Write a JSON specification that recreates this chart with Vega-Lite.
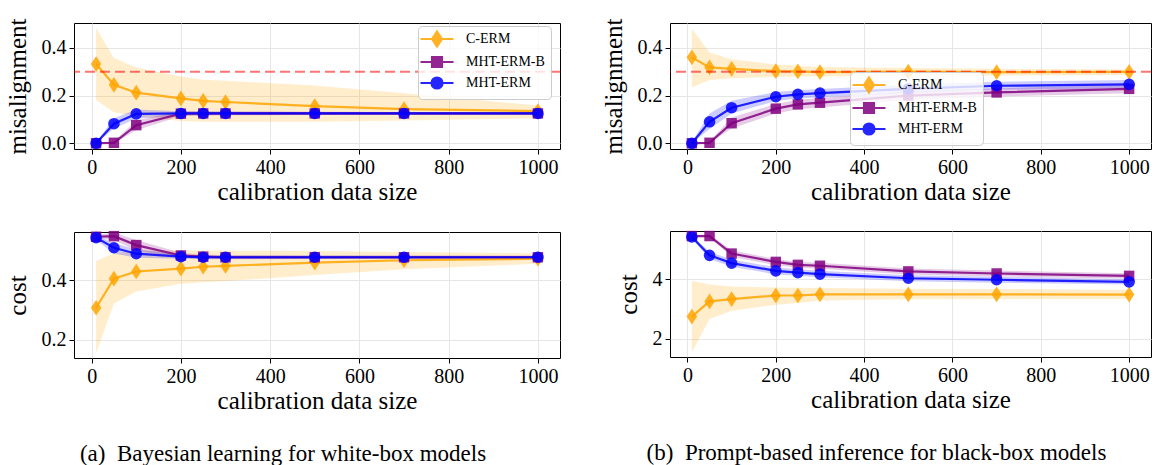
{
"$schema":"https://vega.github.io/schema/vega-lite/v6.json",
"background":"white",
"padding":{"left":4,"top":17,"right":0,"bottom":0},
"spacing":38,
"data":{"values":[
{"p":"wm","s":"C-ERM","n":10,"v":0.332,"lo":0.18,"hi":0.482},
{"p":"wm","s":"C-ERM","n":50,"v":0.245,"lo":0.13,"hi":0.357},
{"p":"wm","s":"C-ERM","n":100,"v":0.212,"lo":0.112,"hi":0.318},
{"p":"wm","s":"C-ERM","n":200,"v":0.188,"lo":0.093,"hi":0.28},
{"p":"wm","s":"C-ERM","n":250,"v":0.178,"lo":0.09,"hi":0.266},
{"p":"wm","s":"C-ERM","n":300,"v":0.173,"lo":0.09,"hi":0.262},
{"p":"wm","s":"C-ERM","n":500,"v":0.156,"lo":0.09,"hi":0.242},
{"p":"wm","s":"C-ERM","n":700,"v":0.143,"lo":0.095,"hi":0.21},
{"p":"wm","s":"C-ERM","n":1000,"v":0.135,"lo":0.105,"hi":0.158},
{"p":"wm","s":"MHT-ERM-B","n":10,"v":0,"lo":0,"hi":0.003},
{"p":"wm","s":"MHT-ERM-B","n":50,"v":0.002,"lo":0,"hi":0.008},
{"p":"wm","s":"MHT-ERM-B","n":100,"v":0.076,"lo":0.055,"hi":0.097},
{"p":"wm","s":"MHT-ERM-B","n":200,"v":0.124,"lo":0.114,"hi":0.134},
{"p":"wm","s":"MHT-ERM-B","n":250,"v":0.125,"lo":0.116,"hi":0.134},
{"p":"wm","s":"MHT-ERM-B","n":300,"v":0.125,"lo":0.117,"hi":0.133},
{"p":"wm","s":"MHT-ERM-B","n":500,"v":0.125,"lo":0.118,"hi":0.132},
{"p":"wm","s":"MHT-ERM-B","n":700,"v":0.125,"lo":0.119,"hi":0.131},
{"p":"wm","s":"MHT-ERM-B","n":1000,"v":0.125,"lo":0.12,"hi":0.13},
{"p":"wm","s":"MHT-ERM","n":10,"v":0,"lo":0,"hi":0.003},
{"p":"wm","s":"MHT-ERM","n":50,"v":0.082,"lo":0.062,"hi":0.105},
{"p":"wm","s":"MHT-ERM","n":100,"v":0.123,"lo":0.104,"hi":0.142},
{"p":"wm","s":"MHT-ERM","n":200,"v":0.125,"lo":0.116,"hi":0.134},
{"p":"wm","s":"MHT-ERM","n":250,"v":0.125,"lo":0.117,"hi":0.133},
{"p":"wm","s":"MHT-ERM","n":300,"v":0.125,"lo":0.118,"hi":0.132},
{"p":"wm","s":"MHT-ERM","n":500,"v":0.125,"lo":0.119,"hi":0.131},
{"p":"wm","s":"MHT-ERM","n":700,"v":0.125,"lo":0.12,"hi":0.13},
{"p":"wm","s":"MHT-ERM","n":1000,"v":0.125,"lo":0.12,"hi":0.13},
{"p":"bm","s":"C-ERM","n":10,"v":0.36,"lo":0.235,"hi":0.48},
{"p":"bm","s":"C-ERM","n":50,"v":0.318,"lo":0.265,"hi":0.38},
{"p":"bm","s":"C-ERM","n":100,"v":0.312,"lo":0.272,"hi":0.352},
{"p":"bm","s":"C-ERM","n":200,"v":0.302,"lo":0.278,"hi":0.33},
{"p":"bm","s":"C-ERM","n":250,"v":0.301,"lo":0.28,"hi":0.325},
{"p":"bm","s":"C-ERM","n":300,"v":0.298,"lo":0.28,"hi":0.32},
{"p":"bm","s":"C-ERM","n":500,"v":0.3,"lo":0.283,"hi":0.315},
{"p":"bm","s":"C-ERM","n":700,"v":0.298,"lo":0.284,"hi":0.312},
{"p":"bm","s":"C-ERM","n":1000,"v":0.299,"lo":0.286,"hi":0.31},
{"p":"bm","s":"MHT-ERM-B","n":10,"v":0,"lo":0,"hi":0.003},
{"p":"bm","s":"MHT-ERM-B","n":50,"v":0.002,"lo":0,"hi":0.006},
{"p":"bm","s":"MHT-ERM-B","n":100,"v":0.084,"lo":0.062,"hi":0.108},
{"p":"bm","s":"MHT-ERM-B","n":200,"v":0.145,"lo":0.125,"hi":0.165},
{"p":"bm","s":"MHT-ERM-B","n":250,"v":0.163,"lo":0.143,"hi":0.182},
{"p":"bm","s":"MHT-ERM-B","n":300,"v":0.17,"lo":0.15,"hi":0.19},
{"p":"bm","s":"MHT-ERM-B","n":500,"v":0.2,"lo":0.182,"hi":0.218},
{"p":"bm","s":"MHT-ERM-B","n":700,"v":0.213,"lo":0.196,"hi":0.23},
{"p":"bm","s":"MHT-ERM-B","n":1000,"v":0.228,"lo":0.21,"hi":0.245},
{"p":"bm","s":"MHT-ERM","n":10,"v":0,"lo":0,"hi":0.004},
{"p":"bm","s":"MHT-ERM","n":50,"v":0.09,"lo":0.06,"hi":0.125},
{"p":"bm","s":"MHT-ERM","n":100,"v":0.149,"lo":0.125,"hi":0.178},
{"p":"bm","s":"MHT-ERM","n":200,"v":0.195,"lo":0.177,"hi":0.215},
{"p":"bm","s":"MHT-ERM","n":250,"v":0.205,"lo":0.188,"hi":0.222},
{"p":"bm","s":"MHT-ERM","n":300,"v":0.21,"lo":0.193,"hi":0.227},
{"p":"bm","s":"MHT-ERM","n":500,"v":0.228,"lo":0.21,"hi":0.245},
{"p":"bm","s":"MHT-ERM","n":700,"v":0.241,"lo":0.225,"hi":0.258},
{"p":"bm","s":"MHT-ERM","n":1000,"v":0.247,"lo":0.23,"hi":0.265},
{"p":"wc","s":"C-ERM","n":10,"v":0.307,"lo":0.155,"hi":0.464},
{"p":"wc","s":"C-ERM","n":50,"v":0.405,"lo":0.321,"hi":0.49},
{"p":"wc","s":"C-ERM","n":100,"v":0.429,"lo":0.362,"hi":0.5},
{"p":"wc","s":"C-ERM","n":200,"v":0.439,"lo":0.388,"hi":0.5},
{"p":"wc","s":"C-ERM","n":250,"v":0.445,"lo":0.393,"hi":0.5},
{"p":"wc","s":"C-ERM","n":300,"v":0.448,"lo":0.397,"hi":0.5},
{"p":"wc","s":"C-ERM","n":500,"v":0.459,"lo":0.417,"hi":0.498},
{"p":"wc","s":"C-ERM","n":700,"v":0.467,"lo":0.437,"hi":0.495},
{"p":"wc","s":"C-ERM","n":1000,"v":0.472,"lo":0.455,"hi":0.49},
{"p":"wc","s":"MHT-ERM-B","n":10,"v":0.546,"lo":0.54,"hi":0.552},
{"p":"wc","s":"MHT-ERM-B","n":50,"v":0.548,"lo":0.535,"hi":0.56},
{"p":"wc","s":"MHT-ERM-B","n":100,"v":0.518,"lo":0.5,"hi":0.535},
{"p":"wc","s":"MHT-ERM-B","n":200,"v":0.483,"lo":0.475,"hi":0.492},
{"p":"wc","s":"MHT-ERM-B","n":250,"v":0.479,"lo":0.471,"hi":0.486},
{"p":"wc","s":"MHT-ERM-B","n":300,"v":0.477,"lo":0.47,"hi":0.484},
{"p":"wc","s":"MHT-ERM-B","n":500,"v":0.477,"lo":0.471,"hi":0.483},
{"p":"wc","s":"MHT-ERM-B","n":700,"v":0.477,"lo":0.471,"hi":0.483},
{"p":"wc","s":"MHT-ERM-B","n":1000,"v":0.477,"lo":0.472,"hi":0.482},
{"p":"wc","s":"MHT-ERM","n":10,"v":0.543,"lo":0.535,"hi":0.55},
{"p":"wc","s":"MHT-ERM","n":50,"v":0.509,"lo":0.49,"hi":0.525},
{"p":"wc","s":"MHT-ERM","n":100,"v":0.489,"lo":0.475,"hi":0.503},
{"p":"wc","s":"MHT-ERM","n":200,"v":0.479,"lo":0.472,"hi":0.487},
{"p":"wc","s":"MHT-ERM","n":250,"v":0.477,"lo":0.47,"hi":0.484},
{"p":"wc","s":"MHT-ERM","n":300,"v":0.477,"lo":0.471,"hi":0.483},
{"p":"wc","s":"MHT-ERM","n":500,"v":0.477,"lo":0.471,"hi":0.483},
{"p":"wc","s":"MHT-ERM","n":700,"v":0.477,"lo":0.472,"hi":0.482},
{"p":"wc","s":"MHT-ERM","n":1000,"v":0.477,"lo":0.472,"hi":0.482},
{"p":"bc","s":"C-ERM","n":10,"v":2.74,"lo":1.54,"hi":3.94},
{"p":"bc","s":"C-ERM","n":50,"v":3.25,"lo":2.66,"hi":3.82},
{"p":"bc","s":"C-ERM","n":100,"v":3.33,"lo":2.94,"hi":3.75},
{"p":"bc","s":"C-ERM","n":200,"v":3.45,"lo":3.14,"hi":3.72},
{"p":"bc","s":"C-ERM","n":250,"v":3.45,"lo":3.2,"hi":3.71},
{"p":"bc","s":"C-ERM","n":300,"v":3.49,"lo":3.28,"hi":3.7},
{"p":"bc","s":"C-ERM","n":500,"v":3.49,"lo":3.32,"hi":3.68},
{"p":"bc","s":"C-ERM","n":700,"v":3.49,"lo":3.33,"hi":3.67},
{"p":"bc","s":"C-ERM","n":1000,"v":3.48,"lo":3.33,"hi":3.64},
{"p":"bc","s":"MHT-ERM-B","n":10,"v":5.45,"lo":5.42,"hi":5.48},
{"p":"bc","s":"MHT-ERM-B","n":50,"v":5.45,"lo":5.4,"hi":5.5},
{"p":"bc","s":"MHT-ERM-B","n":100,"v":4.86,"lo":4.75,"hi":4.97},
{"p":"bc","s":"MHT-ERM-B","n":200,"v":4.58,"lo":4.47,"hi":4.68},
{"p":"bc","s":"MHT-ERM-B","n":250,"v":4.48,"lo":4.38,"hi":4.58},
{"p":"bc","s":"MHT-ERM-B","n":300,"v":4.45,"lo":4.35,"hi":4.55},
{"p":"bc","s":"MHT-ERM-B","n":500,"v":4.26,"lo":4.16,"hi":4.36},
{"p":"bc","s":"MHT-ERM-B","n":700,"v":4.19,"lo":4.09,"hi":4.29},
{"p":"bc","s":"MHT-ERM-B","n":1000,"v":4.11,"lo":4.01,"hi":4.2},
{"p":"bc","s":"MHT-ERM","n":10,"v":5.42,"lo":5.38,"hi":5.46},
{"p":"bc","s":"MHT-ERM","n":50,"v":4.8,"lo":4.68,"hi":4.92},
{"p":"bc","s":"MHT-ERM","n":100,"v":4.54,"lo":4.42,"hi":4.66},
{"p":"bc","s":"MHT-ERM","n":200,"v":4.28,"lo":4.16,"hi":4.4},
{"p":"bc","s":"MHT-ERM","n":250,"v":4.22,"lo":4.11,"hi":4.33},
{"p":"bc","s":"MHT-ERM","n":300,"v":4.17,"lo":4.06,"hi":4.28},
{"p":"bc","s":"MHT-ERM","n":500,"v":4.03,"lo":3.93,"hi":4.13},
{"p":"bc","s":"MHT-ERM","n":700,"v":3.98,"lo":3.88,"hi":4.08},
{"p":"bc","s":"MHT-ERM","n":1000,"v":3.91,"lo":3.82,"hi":4.0}
]},
"hconcat":[
{"spacing":25,
 "title":{"text":"(a)\u00a0 Bayesian learning for white-box models","orient":"bottom","anchor":"middle","offset":29},
 "resolve":{"scale":{"color":"independent","shape":"independent","stroke":"independent"},"legend":{"color":"independent","shape":"independent","stroke":"independent"}},
 "vconcat":[
 {"width":486,"height":126,"transform":[{"filter":"datum.p==='wm'"}],
  "layer":[
   {"transform":[{"filter":"datum.s==='C-ERM'"}],"mark":{"type":"area","color":"#FFA500","opacity":0.2},
    "encoding":{"x":{"field":"n","type":"quantitative","scale":{"domain":[-39.5,1049.5],"nice":false,"zero":false},"axis":{"values":[0,200,400,600,800,1000],"format":"d"},"title":"calibration data size"},
     "y":{"field":"lo","type":"quantitative","scale":{"domain":[-0.024,0.504],"nice":false,"zero":false},"axis":{"values":[0,0.2,0.4],"format":".1f"},"title":"misalignment"},"y2":{"field":"hi"}}},
   {"transform":[{"filter":"datum.s==='MHT-ERM-B'"}],"mark":{"type":"area","color":"#800080","opacity":0.2},
    "encoding":{"x":{"field":"n","type":"quantitative","title":"calibration data size"},"y":{"field":"lo","type":"quantitative","title":"misalignment"},"y2":{"field":"hi"}}},
   {"transform":[{"filter":"datum.s==='MHT-ERM'"}],"mark":{"type":"area","color":"#0000FF","opacity":0.2},
    "encoding":{"x":{"field":"n","type":"quantitative","title":"calibration data size"},"y":{"field":"lo","type":"quantitative","title":"misalignment"},"y2":{"field":"hi"}}},
   {"transform":[{"filter":"datum.s==='C-ERM'"}],"mark":{"type":"line","color":"#FFA500","opacity":0.85,"strokeWidth":2.2},
    "encoding":{"x":{"field":"n","type":"quantitative","title":"calibration data size"},"y":{"field":"v","type":"quantitative","title":"misalignment"}}},
   {"transform":[{"filter":"datum.s==='C-ERM'"}],"mark":{"type":"point","filled":true,"size":135,"opacity":0.85,"color":"#FFA500","shape":"M0,-1.35L0.9,0L0,1.35L-0.9,0Z"},
    "encoding":{"x":{"field":"n","type":"quantitative","title":"calibration data size"},"y":{"field":"v","type":"quantitative","title":"misalignment"}}},
   {"transform":[{"filter":"datum.s==='MHT-ERM-B'"}],"mark":{"type":"line","color":"#800080","opacity":0.85,"strokeWidth":2.2},
    "encoding":{"x":{"field":"n","type":"quantitative","title":"calibration data size"},"y":{"field":"v","type":"quantitative","title":"misalignment"}}},
   {"transform":[{"filter":"datum.s==='MHT-ERM-B'"}],"mark":{"type":"point","filled":true,"size":135,"opacity":0.85,"color":"#800080","shape":"M-0.9,-0.9H0.9V0.9H-0.9Z"},
    "encoding":{"x":{"field":"n","type":"quantitative","title":"calibration data size"},"y":{"field":"v","type":"quantitative","title":"misalignment"}}},
   {"transform":[{"filter":"datum.s==='MHT-ERM'"}],"mark":{"type":"line","color":"#0000FF","opacity":0.85,"strokeWidth":2.2},
    "encoding":{"x":{"field":"n","type":"quantitative","title":"calibration data size"},"y":{"field":"v","type":"quantitative","title":"misalignment"}}},
   {"transform":[{"filter":"datum.s==='MHT-ERM'"}],"mark":{"type":"point","filled":true,"size":135,"opacity":0.85,"color":"#0000FF","shape":"circle"},
    "encoding":{"x":{"field":"n","type":"quantitative","title":"calibration data size"},"y":{"field":"v","type":"quantitative","title":"misalignment"}}},
   {"data":{"values":[{"r":0.3,"p":"wm"}]},"mark":{"type":"rule","color":"#ff0000","opacity":0.55,"strokeWidth":2,"strokeDash":[10,5]},
    "encoding":{"y":{"field":"r","type":"quantitative","title":"misalignment"}}},
   {"mark":{"type":"point","filled":true,"size":121,"opacity":0},
    "encoding":{"x":{"field":"n","type":"quantitative","title":"calibration data size"},"y":{"field":"v","type":"quantitative","title":"misalignment"},
     "color":{"field":"s","type":"nominal","scale":{"domain":["C-ERM","MHT-ERM-B","MHT-ERM"],"range":["#FFA500","#800080","#0000FF"]},"legend":{"title":null,"orient":"none","legendX":344,"legendY":3}},
     "stroke":{"field":"s","type":"nominal","scale":{"domain":["C-ERM","MHT-ERM-B","MHT-ERM"],"range":["#FFA500","#800080","#0000FF"]},"legend":{"title":null,"orient":"none","legendX":344,"legendY":3}},
     "shape":{"field":"s","type":"nominal","scale":{"domain":["C-ERM","MHT-ERM-B","MHT-ERM"],"range":["M-3,0H3M0,-1.35L0.9,0L0,1.35L-0.9,0Z","M-3,0H3M-0.9,-0.9H0.9V0.9H-0.9Z","M-3,0H3M1,0A1,1,0,1,1,-1,0A1,1,0,1,1,1,0Z"]},"legend":{"title":null,"orient":"none","legendX":344,"legendY":3}}}}
  ]},
 {"width":486,"height":126,"transform":[{"filter":"datum.p==='wc'"}],
  "layer":[
   {"transform":[{"filter":"datum.s==='C-ERM'"}],"mark":{"type":"area","color":"#FFA500","opacity":0.2},
    "encoding":{"x":{"field":"n","type":"quantitative","scale":{"domain":[-39.5,1049.5],"nice":false,"zero":false},"axis":{"values":[0,200,400,600,800,1000],"format":"d"},"title":"calibration data size"},
     "y":{"field":"lo","type":"quantitative","scale":{"domain":[0.138,0.562],"nice":false,"zero":false},"axis":{"values":[0.2,0.4],"format":".1f"},"title":"cost"},"y2":{"field":"hi"}}},
   {"transform":[{"filter":"datum.s==='MHT-ERM-B'"}],"mark":{"type":"area","color":"#800080","opacity":0.2},
    "encoding":{"x":{"field":"n","type":"quantitative","title":"calibration data size"},"y":{"field":"lo","type":"quantitative","title":"cost"},"y2":{"field":"hi"}}},
   {"transform":[{"filter":"datum.s==='MHT-ERM'"}],"mark":{"type":"area","color":"#0000FF","opacity":0.2},
    "encoding":{"x":{"field":"n","type":"quantitative","title":"calibration data size"},"y":{"field":"lo","type":"quantitative","title":"cost"},"y2":{"field":"hi"}}},
   {"transform":[{"filter":"datum.s==='C-ERM'"}],"mark":{"type":"line","color":"#FFA500","opacity":0.85,"strokeWidth":2.2},
    "encoding":{"x":{"field":"n","type":"quantitative","title":"calibration data size"},"y":{"field":"v","type":"quantitative","title":"cost"}}},
   {"transform":[{"filter":"datum.s==='C-ERM'"}],"mark":{"type":"point","filled":true,"size":135,"opacity":0.85,"color":"#FFA500","shape":"M0,-1.35L0.9,0L0,1.35L-0.9,0Z"},
    "encoding":{"x":{"field":"n","type":"quantitative","title":"calibration data size"},"y":{"field":"v","type":"quantitative","title":"cost"}}},
   {"transform":[{"filter":"datum.s==='MHT-ERM-B'"}],"mark":{"type":"line","color":"#800080","opacity":0.85,"strokeWidth":2.2},
    "encoding":{"x":{"field":"n","type":"quantitative","title":"calibration data size"},"y":{"field":"v","type":"quantitative","title":"cost"}}},
   {"transform":[{"filter":"datum.s==='MHT-ERM-B'"}],"mark":{"type":"point","filled":true,"size":135,"opacity":0.85,"color":"#800080","shape":"M-0.9,-0.9H0.9V0.9H-0.9Z"},
    "encoding":{"x":{"field":"n","type":"quantitative","title":"calibration data size"},"y":{"field":"v","type":"quantitative","title":"cost"}}},
   {"transform":[{"filter":"datum.s==='MHT-ERM'"}],"mark":{"type":"line","color":"#0000FF","opacity":0.85,"strokeWidth":2.2},
    "encoding":{"x":{"field":"n","type":"quantitative","title":"calibration data size"},"y":{"field":"v","type":"quantitative","title":"cost"}}},
   {"transform":[{"filter":"datum.s==='MHT-ERM'"}],"mark":{"type":"point","filled":true,"size":135,"opacity":0.85,"color":"#0000FF","shape":"circle"},
    "encoding":{"x":{"field":"n","type":"quantitative","title":"calibration data size"},"y":{"field":"v","type":"quantitative","title":"cost"}}}
  ]}
 ]},
{"spacing":25,
 "title":{"text":"(b)\u00a0 Prompt-based inference for black-box models","orient":"bottom","anchor":"middle","offset":29},
 "resolve":{"scale":{"color":"independent","shape":"independent","stroke":"independent"},"legend":{"color":"independent","shape":"independent","stroke":"independent"}},
 "vconcat":[
 {"width":481,"height":126,"transform":[{"filter":"datum.p==='bm'"}],
  "layer":[
   {"transform":[{"filter":"datum.s==='C-ERM'"}],"mark":{"type":"area","color":"#FFA500","opacity":0.2},
    "encoding":{"x":{"field":"n","type":"quantitative","scale":{"domain":[-39.5,1049.5],"nice":false,"zero":false},"axis":{"values":[0,200,400,600,800,1000],"format":"d"},"title":"calibration data size"},
     "y":{"field":"lo","type":"quantitative","scale":{"domain":[-0.024,0.504],"nice":false,"zero":false},"axis":{"values":[0,0.2,0.4],"format":".1f"},"title":"misalignment"},"y2":{"field":"hi"}}},
   {"transform":[{"filter":"datum.s==='MHT-ERM-B'"}],"mark":{"type":"area","color":"#800080","opacity":0.2},
    "encoding":{"x":{"field":"n","type":"quantitative","title":"calibration data size"},"y":{"field":"lo","type":"quantitative","title":"misalignment"},"y2":{"field":"hi"}}},
   {"transform":[{"filter":"datum.s==='MHT-ERM'"}],"mark":{"type":"area","color":"#0000FF","opacity":0.2},
    "encoding":{"x":{"field":"n","type":"quantitative","title":"calibration data size"},"y":{"field":"lo","type":"quantitative","title":"misalignment"},"y2":{"field":"hi"}}},
   {"transform":[{"filter":"datum.s==='C-ERM'"}],"mark":{"type":"line","color":"#FFA500","opacity":0.85,"strokeWidth":2.2},
    "encoding":{"x":{"field":"n","type":"quantitative","title":"calibration data size"},"y":{"field":"v","type":"quantitative","title":"misalignment"}}},
   {"transform":[{"filter":"datum.s==='C-ERM'"}],"mark":{"type":"point","filled":true,"size":135,"opacity":0.85,"color":"#FFA500","shape":"M0,-1.35L0.9,0L0,1.35L-0.9,0Z"},
    "encoding":{"x":{"field":"n","type":"quantitative","title":"calibration data size"},"y":{"field":"v","type":"quantitative","title":"misalignment"}}},
   {"transform":[{"filter":"datum.s==='MHT-ERM-B'"}],"mark":{"type":"line","color":"#800080","opacity":0.85,"strokeWidth":2.2},
    "encoding":{"x":{"field":"n","type":"quantitative","title":"calibration data size"},"y":{"field":"v","type":"quantitative","title":"misalignment"}}},
   {"transform":[{"filter":"datum.s==='MHT-ERM-B'"}],"mark":{"type":"point","filled":true,"size":135,"opacity":0.85,"color":"#800080","shape":"M-0.9,-0.9H0.9V0.9H-0.9Z"},
    "encoding":{"x":{"field":"n","type":"quantitative","title":"calibration data size"},"y":{"field":"v","type":"quantitative","title":"misalignment"}}},
   {"transform":[{"filter":"datum.s==='MHT-ERM'"}],"mark":{"type":"line","color":"#0000FF","opacity":0.85,"strokeWidth":2.2},
    "encoding":{"x":{"field":"n","type":"quantitative","title":"calibration data size"},"y":{"field":"v","type":"quantitative","title":"misalignment"}}},
   {"transform":[{"filter":"datum.s==='MHT-ERM'"}],"mark":{"type":"point","filled":true,"size":135,"opacity":0.85,"color":"#0000FF","shape":"circle"},
    "encoding":{"x":{"field":"n","type":"quantitative","title":"calibration data size"},"y":{"field":"v","type":"quantitative","title":"misalignment"}}},
   {"data":{"values":[{"r":0.3,"p":"bm"}]},"mark":{"type":"rule","color":"#ff0000","opacity":0.55,"strokeWidth":2,"strokeDash":[10,5]},
    "encoding":{"y":{"field":"r","type":"quantitative","title":"misalignment"}}},
   {"mark":{"type":"point","filled":true,"size":121,"opacity":0},
    "encoding":{"x":{"field":"n","type":"quantitative","title":"calibration data size"},"y":{"field":"v","type":"quantitative","title":"misalignment"},
     "color":{"field":"s","type":"nominal","scale":{"domain":["C-ERM","MHT-ERM-B","MHT-ERM"],"range":["#FFA500","#800080","#0000FF"]},"legend":{"title":null,"orient":"none","legendX":180,"legendY":49}},
     "stroke":{"field":"s","type":"nominal","scale":{"domain":["C-ERM","MHT-ERM-B","MHT-ERM"],"range":["#FFA500","#800080","#0000FF"]},"legend":{"title":null,"orient":"none","legendX":180,"legendY":49}},
     "shape":{"field":"s","type":"nominal","scale":{"domain":["C-ERM","MHT-ERM-B","MHT-ERM"],"range":["M-3,0H3M0,-1.35L0.9,0L0,1.35L-0.9,0Z","M-3,0H3M-0.9,-0.9H0.9V0.9H-0.9Z","M-3,0H3M1,0A1,1,0,1,1,-1,0A1,1,0,1,1,1,0Z"]},"legend":{"title":null,"orient":"none","legendX":180,"legendY":49}}}}
  ]},
 {"width":481,"height":126,"transform":[{"filter":"datum.p==='bc'"}],
  "layer":[
   {"transform":[{"filter":"datum.s==='C-ERM'"}],"mark":{"type":"area","color":"#FFA500","opacity":0.2},
    "encoding":{"x":{"field":"n","type":"quantitative","scale":{"domain":[-39.5,1049.5],"nice":false,"zero":false},"axis":{"values":[0,200,400,600,800,1000],"format":"d"},"title":"calibration data size"},
     "y":{"field":"lo","type":"quantitative","scale":{"domain":[1.38,5.62],"nice":false,"zero":false},"axis":{"values":[2,4],"format":"d"},"title":"cost"},"y2":{"field":"hi"}}},
   {"transform":[{"filter":"datum.s==='MHT-ERM-B'"}],"mark":{"type":"area","color":"#800080","opacity":0.2},
    "encoding":{"x":{"field":"n","type":"quantitative","title":"calibration data size"},"y":{"field":"lo","type":"quantitative","title":"cost"},"y2":{"field":"hi"}}},
   {"transform":[{"filter":"datum.s==='MHT-ERM'"}],"mark":{"type":"area","color":"#0000FF","opacity":0.2},
    "encoding":{"x":{"field":"n","type":"quantitative","title":"calibration data size"},"y":{"field":"lo","type":"quantitative","title":"cost"},"y2":{"field":"hi"}}},
   {"transform":[{"filter":"datum.s==='C-ERM'"}],"mark":{"type":"line","color":"#FFA500","opacity":0.85,"strokeWidth":2.2},
    "encoding":{"x":{"field":"n","type":"quantitative","title":"calibration data size"},"y":{"field":"v","type":"quantitative","title":"cost"}}},
   {"transform":[{"filter":"datum.s==='C-ERM'"}],"mark":{"type":"point","filled":true,"size":135,"opacity":0.85,"color":"#FFA500","shape":"M0,-1.35L0.9,0L0,1.35L-0.9,0Z"},
    "encoding":{"x":{"field":"n","type":"quantitative","title":"calibration data size"},"y":{"field":"v","type":"quantitative","title":"cost"}}},
   {"transform":[{"filter":"datum.s==='MHT-ERM-B'"}],"mark":{"type":"line","color":"#800080","opacity":0.85,"strokeWidth":2.2},
    "encoding":{"x":{"field":"n","type":"quantitative","title":"calibration data size"},"y":{"field":"v","type":"quantitative","title":"cost"}}},
   {"transform":[{"filter":"datum.s==='MHT-ERM-B'"}],"mark":{"type":"point","filled":true,"size":135,"opacity":0.85,"color":"#800080","shape":"M-0.9,-0.9H0.9V0.9H-0.9Z"},
    "encoding":{"x":{"field":"n","type":"quantitative","title":"calibration data size"},"y":{"field":"v","type":"quantitative","title":"cost"}}},
   {"transform":[{"filter":"datum.s==='MHT-ERM'"}],"mark":{"type":"line","color":"#0000FF","opacity":0.85,"strokeWidth":2.2},
    "encoding":{"x":{"field":"n","type":"quantitative","title":"calibration data size"},"y":{"field":"v","type":"quantitative","title":"cost"}}},
   {"transform":[{"filter":"datum.s==='MHT-ERM'"}],"mark":{"type":"point","filled":true,"size":135,"opacity":0.85,"color":"#0000FF","shape":"circle"},
    "encoding":{"x":{"field":"n","type":"quantitative","title":"calibration data size"},"y":{"field":"v","type":"quantitative","title":"cost"}}}
  ]}
 ]}
],
"resolve":{"scale":{"color":"independent","shape":"independent","stroke":"independent"},"legend":{"color":"independent","shape":"independent","stroke":"independent"}},
"config":{
 "font":"Liberation Serif",
 "view":{"stroke":"#000","strokeWidth":1},
 "axis":{"labelFont":"Liberation Serif","titleFont":"Liberation Serif","labelFontSize":20,"titleFontSize":25,"titleFontWeight":"normal","labelColor":"#000","titleColor":"#000","tickColor":"#000","tickSize":5,"tickWidth":1,"domain":false,"gridColor":"#e6e6e6","gridWidth":1,"labelPadding":3,"titlePadding":4},
 "axisX":{"labelPadding":3,"titlePadding":2},
 "axisY":{"titlePadding":11},
 "legend":{"labelFont":"Liberation Serif","labelFontSize":14,"labelColor":"#000","fillColor":"rgba(255,255,255,0.8)","strokeColor":"#cccccc","cornerRadius":4,"padding":6,"rowPadding":1,"symbolOffset":6,"labelOffset":22,"symbolSize":121,"symbolOpacity":0.85,"symbolStrokeWidth":2.2},
 "title":{"font":"Liberation Serif","fontSize":23,"fontWeight":"normal","color":"#000"}
}
}
